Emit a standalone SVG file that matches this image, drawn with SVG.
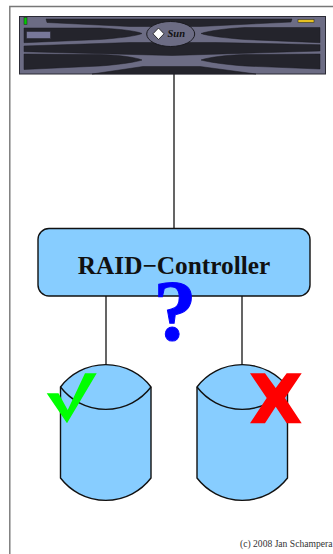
<svg xmlns="http://www.w3.org/2000/svg" width="333" height="554" viewBox="0 0 333 554">
<style>
.line{fill:none;stroke:#333;stroke-width:1.5}
.blue{fill:#87cdff;stroke:#111;stroke-width:1.4}
.rim{fill:none;stroke:#111;stroke-width:1.4}
.dark{fill:#24242c;stroke:#1a1a20;stroke-width:.5}
</style>
<rect width="333" height="554" fill="#fff"/>
<path d="M9.800 554V6.500H333" fill="none" stroke="#777" stroke-width="1.400"/>
<g id="connectors">
<path class="line" d="M174 74V229M106 296V365M242 296V365"/>
</g>
<g id="server">
<rect x="19.500" y="16.500" width="306" height="57.500" fill="#6c6c84" stroke="#2a2a34" stroke-width="1"/>
<path class="dark" d="M46 19H292L291 22L200 26.500H130L47 22.500Z"/>
<path class="dark" d="M24 28H100C120 29 136 31 142 33.500C136 36 120 38 100 39.500L24 42.700Z"/>
<path class="dark" d="M320 27.500H245C225 28.500 208 31 201 33.500C208 36 225 38 245 39.500L320 42.700Z"/>
<path class="dark" d="M24 46L130 42.500H215L320 44.700V51L172 55.500L24 51.700Z"/>
<path class="dark" d="M24 54L100 54.500C120 55 136 57.500 142 60C136 62 120 64.500 100 66L24 69.500Z"/>
<path class="dark" d="M320 54L245 54.500C225 55 208 57.500 201 60C208 62 225 64.500 245 66L320 69Z"/>
<path class="dark" d="M92 74L143 66.500H200L256 74Z"/>
<rect x="24" y="17.500" width="3" height="7" fill="#0c0" stroke="#232" stroke-width=".6"/>
<rect x="298" y="19.500" width="16" height="3" fill="#e6c020" stroke="#332" stroke-width=".6"/>
<rect x="26.500" y="31.500" width="24" height="7" fill="#78789a" stroke="#2a2a34" stroke-width=".6"/>
<ellipse cx="170.700" cy="34" rx="24" ry="12.500" fill="#6c6c84" stroke="#1a1a20" stroke-width="1"/>
<path d="M158.500 28L164 33.800L158.500 39.500L153 33.800Z" fill="#fff" stroke="#111" stroke-width=".8"/>
<text x="167.500" y="37.300" font-family="Liberation Serif, serif" font-size="10.500" font-style="italic" font-weight="bold" fill="#111">Sun</text>
</g>
<g id="controller">
<rect class="blue" x="38" y="228.500" width="272" height="67.500" rx="11" ry="11"/>
<text x="174" y="274" text-anchor="middle" font-family="Liberation Serif, serif" font-size="25.300" font-weight="bold" fill="#111">RAID−Controller</text>
</g>
<g id="disk-left">
<path class="blue" d="M60.500 387A57 57 0 0 1 151 387V478A57 57 0 0 1 60.500 478Z"/>
<path class="rim" d="M60.500 387A57 57 0 0 0 151 387"/>
</g>
<g id="disk-right">
<path class="blue" d="M197 387A57 57 0 0 1 287.500 387V478A57 57 0 0 1 197 478Z"/>
<path class="rim" d="M197 387A57 57 0 0 0 287.500 387"/>
</g>
<text id="question" x="175" y="340" text-anchor="middle" font-family="Liberation Serif, serif" font-size="86" font-weight="bold" fill="#00f" stroke="#00f" stroke-width="1">?</text>
<path id="check" d="M46.700 393.300H58.500L67.700 410L85 373.300H96.700L67 423.300Z" fill="#0f0"/>
<path id="cross" d="M250 373.300H265L275.700 388L286.700 373.300H301.700L285 398L301.700 423.300H286.700L275.700 406.700L265 423.300H250L266.700 398Z" fill="#f00"/>
<text id="credit" x="240" y="546.500" font-family="Liberation Serif, serif" font-size="9.600" fill="#333">(c) 2008 Jan Schampera</text>
</svg>
